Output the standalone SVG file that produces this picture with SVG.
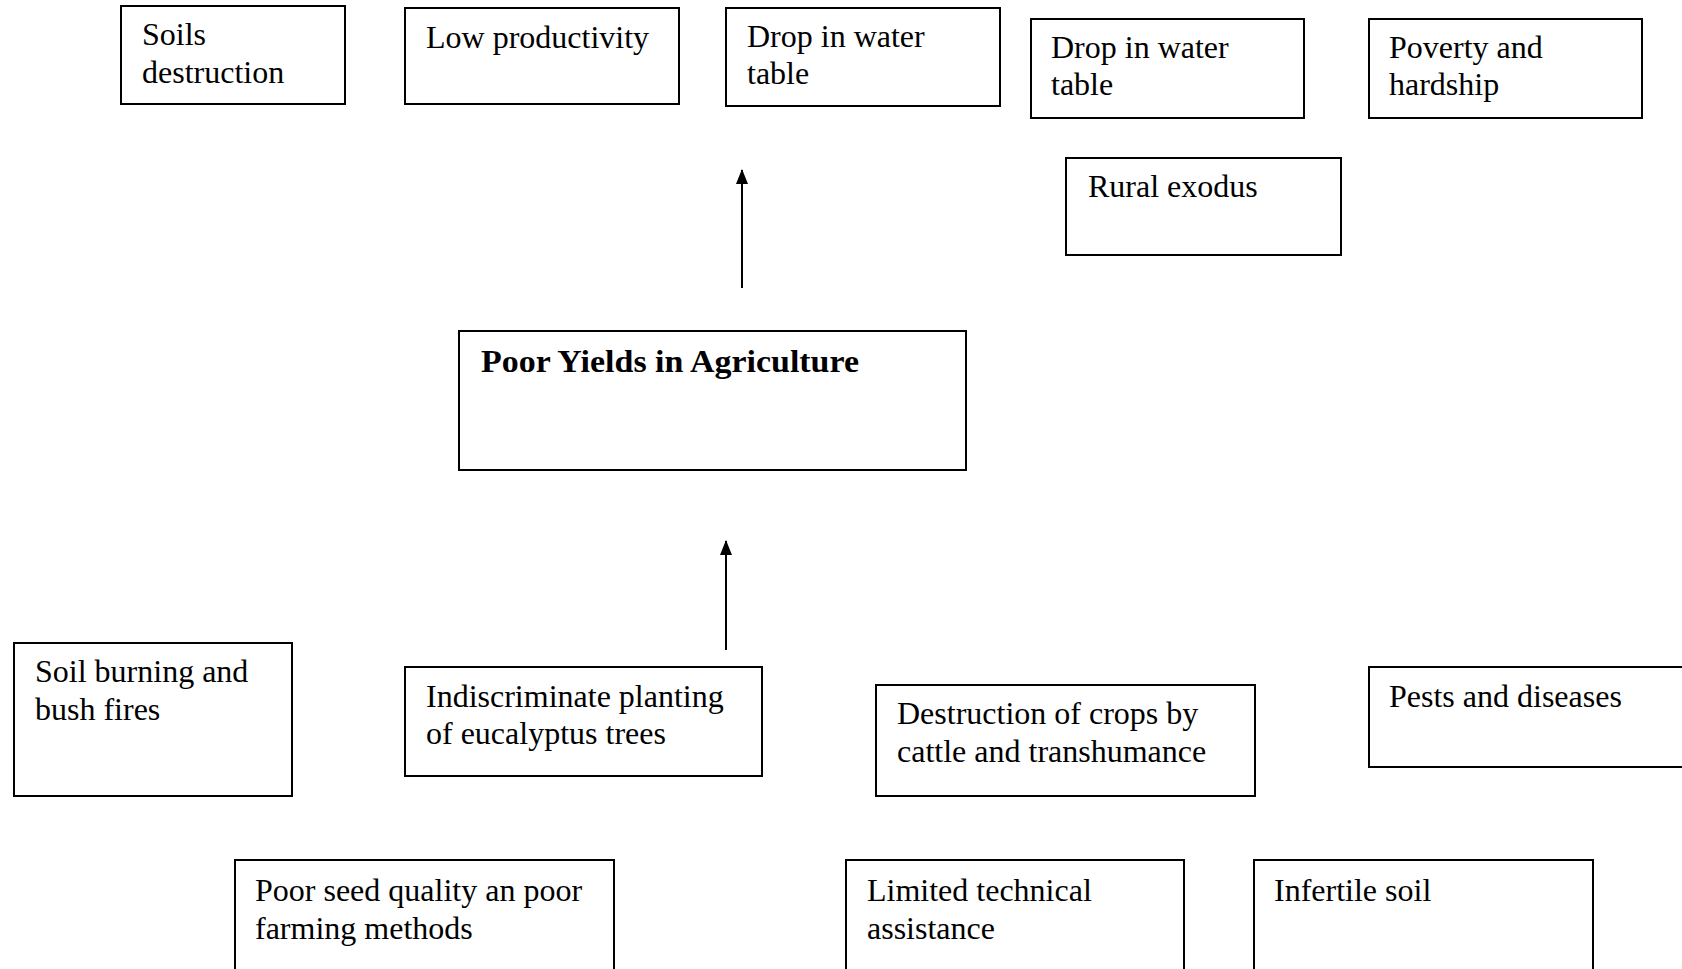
<svg xmlns="http://www.w3.org/2000/svg" width="1682" height="969" viewBox="0 0 1682 969">
  <style>
    .box { fill: #ffffff; stroke: #000000; stroke-width: 2; }
    .lbl { font-family: "Liberation Serif", "Times New Roman", serif; font-size: 32px; fill: #000000; }
    .title { font-family: "Liberation Serif", "Times New Roman", serif; font-size: 32px; font-weight: bold; fill: #000000; }
    .link { stroke: #000000; stroke-width: 2; fill: none; marker-end: url(#head); }
  </style>
  <defs>
    <marker id="head" markerWidth="15" markerHeight="12" refX="14" refY="6" orient="auto" markerUnits="userSpaceOnUse" viewBox="0 0 15 12">
      <path d="M0,0 L15,6 L0,12 Z" fill="#000000"/>
    </marker>
  </defs>
  <rect width="1682" height="969" fill="#ffffff"/>

  <!-- effects row -->
  <g id="soils-destruction">
    <rect class="box" x="121" y="6" width="224" height="98"/>
    <text class="lbl" x="142" y="45">Soils</text>
    <text class="lbl" x="142" y="83">destruction</text>
  </g>
  <g id="low-productivity">
    <rect class="box" x="405" y="8" width="274" height="96"/>
    <text class="lbl" x="426" y="48">Low productivity</text>
  </g>
  <g id="drop-water-table-1">
    <rect class="box" x="726" y="8" width="274" height="98"/>
    <text class="lbl" x="747" y="47">Drop in water</text>
    <text class="lbl" x="747" y="84">table</text>
  </g>
  <g id="drop-water-table-2">
    <rect class="box" x="1031" y="19" width="273" height="99"/>
    <text class="lbl" x="1051" y="58">Drop in water</text>
    <text class="lbl" x="1051" y="95">table</text>
  </g>
  <g id="poverty-hardship">
    <rect class="box" x="1369" y="19" width="273" height="99"/>
    <text class="lbl" x="1389" y="58">Poverty and</text>
    <text class="lbl" x="1389" y="95">hardship</text>
  </g>
  <g id="rural-exodus">
    <rect class="box" x="1066" y="158" width="275" height="97"/>
    <text class="lbl" x="1088" y="197">Rural exodus</text>
  </g>

  <!-- core problem -->
  <g id="poor-yields">
    <rect class="box" x="459" y="331" width="507" height="139"/>
    <text class="title" x="481" y="372" textLength="378" lengthAdjust="spacingAndGlyphs">Poor Yields in Agriculture</text>
  </g>

  <!-- causes -->
  <g id="soil-burning">
    <rect class="box" x="14" y="643" width="278" height="153"/>
    <text class="lbl" x="35" y="682">Soil burning and</text>
    <text class="lbl" x="35" y="720">bush fires</text>
  </g>
  <g id="eucalyptus">
    <rect class="box" x="405" y="667" width="357" height="109"/>
    <text class="lbl" x="426" y="707">Indiscriminate planting</text>
    <text class="lbl" x="426" y="744">of eucalyptus trees</text>
  </g>
  <g id="crop-destruction">
    <rect class="box" x="876" y="685" width="379" height="111"/>
    <text class="lbl" x="897" y="724">Destruction of crops by</text>
    <text class="lbl" x="897" y="762">cattle and transhumance</text>
  </g>
  <g id="pests-diseases">
    <rect class="box" x="1369" y="667" width="330" height="100"/>
    <text class="lbl" x="1389" y="707">Pests and diseases</text>
  </g>
  <g id="poor-seed">
    <rect class="box" x="235" y="860" width="379" height="130"/>
    <text class="lbl" x="255" y="901">Poor seed quality an poor</text>
    <text class="lbl" x="255" y="939">farming methods</text>
  </g>
  <g id="technical-assistance">
    <rect class="box" x="846" y="860" width="338" height="130"/>
    <text class="lbl" x="867" y="901">Limited technical</text>
    <text class="lbl" x="867" y="939">assistance</text>
  </g>
  <g id="infertile-soil">
    <rect class="box" x="1254" y="860" width="339" height="130"/>
    <text class="lbl" x="1274" y="901">Infertile soil</text>
  </g>

  <!-- connectors -->
  <g id="connectors">
    <line class="link" x1="742" y1="288" x2="742" y2="170"/>
    <line class="link" x1="726" y1="650" x2="726" y2="541"/>
  </g>
</svg>
